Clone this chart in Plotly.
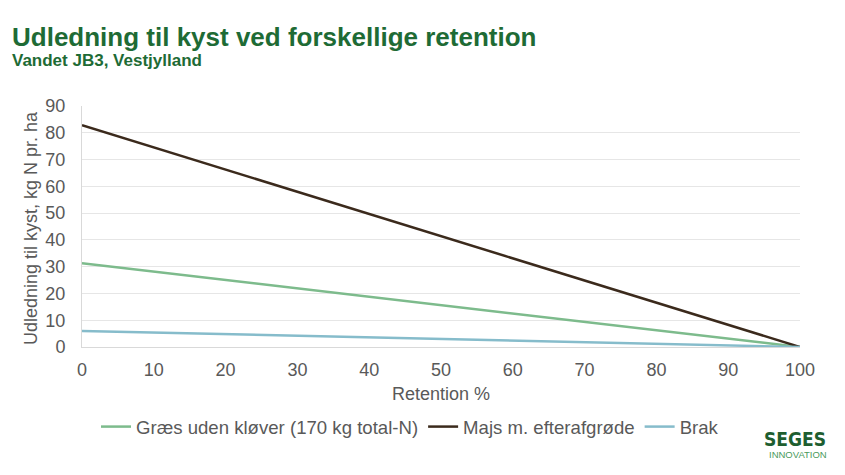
import plotly.graph_objects as go

retention = [0, 100]
graes = [31.3, 0]
majs = [82.8, 0]
brak = [6.0, 0]

series = [
    ("Græs uden kløver (170 kg total-N)", graes, "#7dbb8c"),
    ("Majs m. efterafgrøde", majs, "#3b2a1c"),
    ("Brak", brak, "#86bccb"),
]

fig = go.Figure()
for name, vals, col in series:
    fig.add_trace(go.Scatter(x=retention, y=vals, mode="lines", name=name,
                             line=dict(color=col, width=2.5)))

font = "Liberation Sans, Arial, sans-serif"
PW, PH = 718, 241
fig.update_layout(
    width=845, height=475,
    margin=dict(l=82, r=45, t=106, b=128),
    paper_bgcolor="white", plot_bgcolor="white",
    font=dict(family=font, color="#595959"),
    showlegend=True,
    legend=dict(orientation="h", x=(96 - 82) / PW, xanchor="left",
                y=-(427 - 347) / PH, yanchor="middle",
                font=dict(size=18.6, color="#595959"),
                traceorder="normal"),
    xaxis=dict(range=[0, 100], tickvals=list(range(0, 101, 10)), showgrid=False,
               showline=True, linecolor="#d9d9d9", linewidth=1,
               tickfont=dict(size=18, color="#595959"), ticks="",
               ticklabelstandoff=6,
               title=dict(text="Retention %", font=dict(size=18, color="#595959"), standoff=8),
               zeroline=False),
    yaxis=dict(range=[0, 90], tickvals=list(range(0, 91, 10)), showgrid=True,
               gridcolor="#e6e6e6", gridwidth=1,
               showline=True, linecolor="#d9d9d9", linewidth=1,
               tickfont=dict(size=18, color="#595959"),
               ticks="outside", ticklen=12, tickcolor="rgba(0,0,0,0)",
               zeroline=False),
)

fig.add_annotation(text="Udledning til kyst, kg N pr. ha",
                   xref="paper", yref="paper", x=(31 - 82) / PW, y=(347 - 228) / PH,
                   xanchor="center", yanchor="middle", textangle=-90, showarrow=False,
                   font=dict(family=font, size=18, color="#595959"))
fig.add_annotation(text="<b>Udledning til kyst ved forskellige retention</b>",
                   xref="paper", yref="paper", x=(10 - 82) / PW, y=1 + (106 - 37) / PH,
                   xanchor="left", yanchor="middle", showarrow=False,
                   font=dict(family=font, size=26, color="#1e6b35"))
fig.add_annotation(text="<b>Vandet JB3, Vestjylland</b>",
                   xref="paper", yref="paper", x=(10 - 82) / PW, y=1 + (106 - 60) / PH,
                   xanchor="left", yanchor="middle", showarrow=False,
                   font=dict(family=font, size=17, color="#1e6b35"))
fig.add_annotation(text="<b>SEGES</b>",
                   xref="paper", yref="paper", x=(828 - 82) / PW, y=-(439 - 347) / PH,
                   xanchor="right", yanchor="middle", showarrow=False,
                   font=dict(family="DejaVu Sans Condensed, Liberation Sans Narrow, sans-serif", size=19, color="#1e5e30"))
fig.add_annotation(text="INNOVATION",
                   xref="paper", yref="paper", x=(829 - 82) / PW, y=-(454 - 347) / PH,
                   xanchor="right", yanchor="middle", showarrow=False,
                   font=dict(family=font, size=9.5, color="#4a9a5c"))

fig.write_html("out.html")
